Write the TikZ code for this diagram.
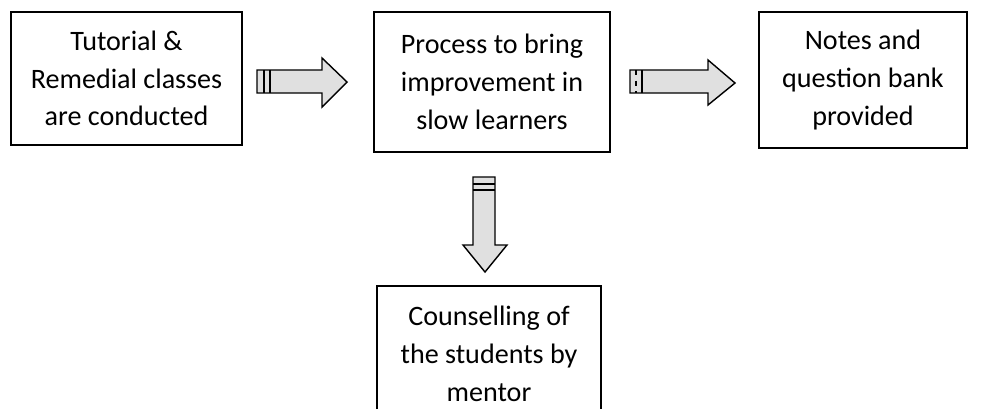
\documentclass[tikz,border=0pt]{standalone}
\usepackage{fontspec}
\setmainfont{Carlito}
\tikzset{
	box/.style={draw, thick, align=center, font=\fontsize{16}{21.5}\selectfont},
	label/.style={align=center, font=\fontsize{16}{21.5}\selectfont},
	blockarrow/.style={draw, thick, fill=black!12, line join=miter}
}
\begin{document}
\begin{tikzpicture}[x=0.02cm, y=-0.02cm]
	\useasboundingbox (0,0) rectangle (983,409);

	\node[box, minimum width=4.62cm, minimum height=2.66cm] (tutorial) at (126.5,78.5) {Tutorial \&\\Remedial classes\\are conducted};
	\node[box, minimum width=4.72cm, minimum height=2.8cm] (process) at (492,82) {Process to bring\\improvement in\\slow learners};
	\node[box, minimum width=4.16cm, minimum height=2.72cm] (notes) at (863,80) {Notes and\\question bank\\provided};
	\node[label] (counsel) at (489,354) {Counselling of\\the students by\\mentor};
	\draw[thick] (377,409) -- (377,286) -- (601,286) -- (601,409);

	% block arrows
	\draw[blockarrow] (257,70) -- (322,70) -- (322,58) -- (347,82) -- (322,107) -- (322,93) -- (257,93) -- cycle;
	\draw[thick] (264,70) -- (264,93);
	\draw[thick] (270,70) -- (270,93);

	\draw[blockarrow] (630,70) -- (708,70) -- (708,60) -- (735,83) -- (708,105) -- (708,93) -- (630,93) -- cycle;
	\draw[thick, dashed] (636,70) -- (636,93);
	\draw[thick] (642,70) -- (642,93);

	\draw[blockarrow] (473,177) -- (495,177) -- (495,245) -- (507,245) -- (485,272) -- (463,245) -- (473,245) -- cycle;
	\draw[thick] (473,184) -- (495,184);
	\draw[thick] (473,190) -- (495,190);
\end{tikzpicture}
\end{document}
